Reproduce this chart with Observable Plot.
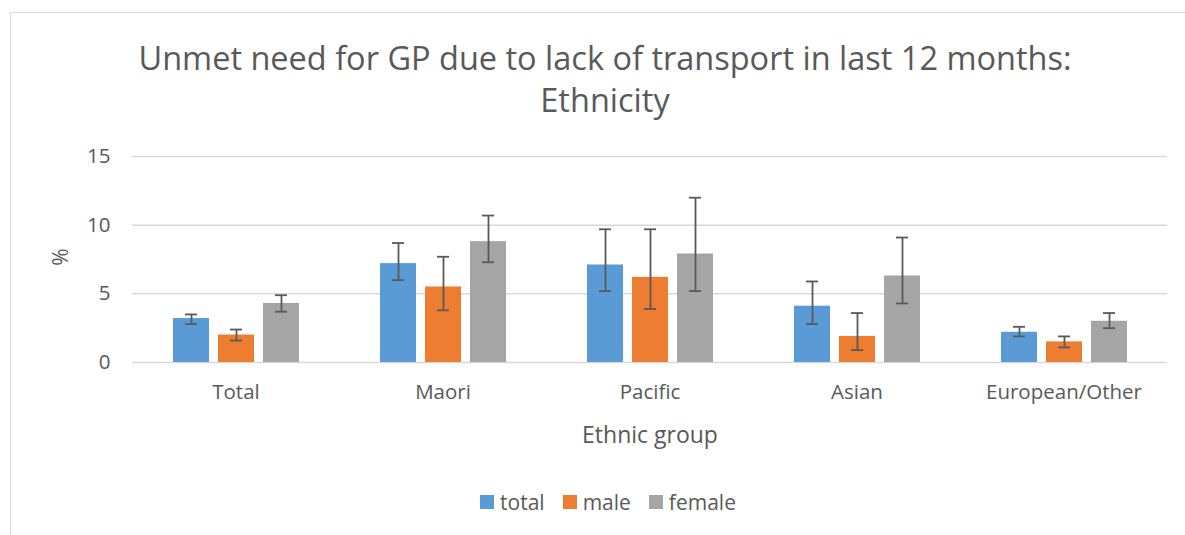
<!DOCTYPE html>
<html>
<head>
<meta charset="utf-8">
<script src="https://cdn.jsdelivr.net/npm/d3@7"></script>
<script src="https://cdn.jsdelivr.net/npm/@observablehq/plot@0.6"></script>
<style>
  html, body { margin: 0; padding: 0; background: #fff; }
  body { width: 1185px; height: 535px; position: relative; overflow: hidden; font-family: "Open Sans", sans-serif; color: #595959; }
  #frame { position: absolute; left: 10px; top: 12px; width: 1200px; height: 540px; border: 1.5px solid #d9d9d9; box-sizing: border-box; }
  #title { position: absolute; left: 0; width: 1210px; top: 37px; text-align: center; font-size: 32.5px; line-height: 42px; color: #595959; }
  #chart { position: absolute; left: 0; top: 0; }
  #xlabel { position: absolute; left: 550px; width: 200px; top: 418px; text-align: center; font-size: 23px; }
  #ylabel { position: absolute; left: 48px; top: 243px; font-size: 21px; transform: rotate(-90deg); transform-origin: center; width: 24px; text-align: center; }
  #legend { position: absolute; left: 0; width: 1216px; top: 487px; text-align: center; font-size: 21px; }
  .item { display: inline-flex; align-items: center; margin: 0 9px; }
  .sw { width: 14px; height: 14px; display: inline-block; margin-right: 6px; }
</style>
</head>
<body>
<div id="frame"></div>
<div id="title">Unmet need for GP due to lack of transport in last 12 months:<br>Ethnicity</div>
<div id="chart"></div>
<div id="xlabel">Ethnic group</div>
<div id="ylabel">%</div>
<div id="legend"></div>
<script>
const categories = ["Total", "Maori", "Pacific", "Asian", "European/Other"];
const series = ["total", "male", "female"];
const colors = ["#5B9BD5", "#ED7D31", "#A5A5A5"];
const yTicks = [0, 5, 10, 15];

const totalVals  = [3.2, 7.2, 7.1, 4.1, 2.2];
const totalLow   = [2.8, 6.0, 5.2, 2.8, 1.9];
const totalHigh  = [3.5, 8.7, 9.7, 5.9, 2.6];
const maleVals   = [2.0, 5.5, 6.2, 1.9, 1.5];
const maleLow    = [1.6, 3.8, 3.9, 0.9, 1.1];
const maleHigh   = [2.4, 7.7, 9.7, 3.6, 1.9];
const femaleVals = [4.3, 8.8, 7.9, 6.3, 3.0];
const femaleLow  = [3.7, 7.3, 5.2, 4.3, 2.5];
const femaleHigh = [4.9, 10.7, 12.0, 9.1, 3.6];

const vals = [totalVals, maleVals, femaleVals];
const lows = [totalLow, maleLow, femaleLow];
const highs = [totalHigh, maleHigh, femaleHigh];

const data = [];
categories.forEach((c, i) => {
  series.forEach((s, j) => {
    data.push({category: c, series: s, value: vals[j][i], low: lows[j][i], high: highs[j][i]});
  });
});

const chart = Plot.plot({
  width: 1185,
  height: 450,
  marginLeft: 130,
  marginRight: 17,
  marginTop: 156,
  marginBottom: 88,
  style: {fontFamily: "'Open Sans', sans-serif", fontSize: "20.5px", color: "#595959", background: "transparent", overflow: "visible"},
  fx: {domain: categories, padding: 0, axis: "bottom", tickSize: 0, tickPadding: 22, label: null},
  x: {domain: series, axis: null, paddingInner: 0.207, paddingOuter: 0.86},
  y: {domain: [0, 15], ticks: yTicks, tickSize: 0, tickPadding: 22, label: null},
  color: {domain: series, range: colors},
  marks: [
    Plot.ruleY(yTicks, {stroke: "#d9d9d9", strokeWidth: 1.5, clip: false}),
    Plot.barY(data, {fx: "category", x: "series", y: "value", fill: "series"}),
    Plot.ruleX(data, {fx: "category", x: "series", y1: "low", y2: "high", stroke: "#595959", strokeWidth: 1.8}),
    Plot.tickY(data, {fx: "category", x: "series", y: "low", stroke: "#595959", strokeWidth: 1.8, insetLeft: 12, insetRight: 12}),
    Plot.tickY(data, {fx: "category", x: "series", y: "high", stroke: "#595959", strokeWidth: 1.8, insetLeft: 12, insetRight: 12})
  ]
});
document.getElementById("chart").appendChild(chart);

const legend = document.getElementById("legend");
series.forEach((s, j) => {
  const item = document.createElement("span");
  item.className = "item";
  const sw = document.createElement("span");
  sw.className = "sw";
  sw.style.background = colors[j];
  item.appendChild(sw);
  item.appendChild(document.createTextNode(s));
  legend.appendChild(item);
});
</script>
</body>
</html>
